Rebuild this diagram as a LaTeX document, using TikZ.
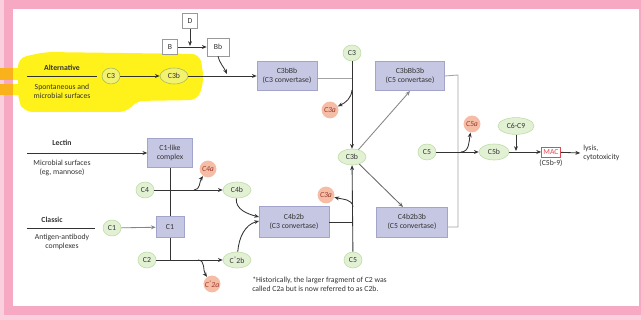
\documentclass[tikz,border=0pt]{standalone}
\usepackage{fontspec}
\setmainfont{Carlito}
\usetikzlibrary{arrows.meta, shapes.geometric}
\definecolor{Ink}{HTML}{333333}
\definecolor{Leaf}{HTML}{E2F1D4}
\definecolor{LeafLine}{HTML}{BCDCA4}
\definecolor{Salmon}{HTML}{F5BCA6}
\definecolor{Rust}{HTML}{9A3B2C}
\definecolor{Lilac}{HTML}{C6C7E3}
\definecolor{LilacLine}{HTML}{A3A4CB}
\definecolor{Frame}{HTML}{F7A9C3}
\definecolor{Marker}{HTML}{FFF21A}
\definecolor{MarkerOver}{HTML}{F9B21C}
\definecolor{MacRed}{HTML}{E24A5A}
\newcommand{\twostar}{\raisebox{0.9ex}{\fontsize{3.6}{4}\selectfont*}}

\begin{document}
\begin{tikzpicture}[x=0.025cm, y=-0.025cm,
    every node/.style={font=\fontsize{5.5}{6.4}\selectfont, text=Ink, inner sep=0pt, align=center},
    prot/.style={ellipse, draw=LeafLine, fill=Leaf, minimum width=0.45cm, minimum height=0.4cm},
    hl/.style={fill=Leaf!45!Marker, draw=LeafLine!60!olive},
    frag/.style={circle, fill=Salmon, text=Rust, minimum size=0.42cm, font=\fontsize{5.5}{6.4}\selectfont\itshape},
    cplx/.style={draw=LilacLine, fill=Lilac, minimum height=0.72cm},
    keybox/.style={draw=Ink!50, fill=white, minimum size=0.38cm},
    head/.style={font=\fontsize{5.5}{6.4}\selectfont\bfseries},
    arr/.style={Ink, line width=0.6pt, -{Stealth[length=3.4pt, width=2.8pt]}},
    ln/.style={Ink, line width=0.6pt},
    pale/.style={Ink!45, line width=0.6pt}]
  \useasboundingbox (0,0) rectangle (641,320);
  \fill[Frame] (0,0) rectangle (641,320);
  \fill[Frame!55] (0,0) rectangle (4,320);
  \fill[Frame!55] (0,315) rectangle (641,320);
  \fill[white] (13,9) rectangle (639,306);
  \fill[Marker, rounded corners=6] (18,58) -- (45,52) -- (200,54) -- (204,80) -- (198,100)
    -- (135,101) -- (128,112) -- (24,112) -- (18,100) -- cycle;
  \fill[Marker] (10,68) rectangle (20,80);
  \fill[Marker] (10,84) rectangle (20,95);
  \fill[MarkerOver] (0,68) rectangle (13,80);
  \fill[MarkerOver] (0,84) rectangle (13,95);

  \node[head] (alt) at (62,68) {Alternative};
  \draw[ln] (27,76) -- (97,76);
  \node (altsrc) at (62,91) {Spontaneous and\\microbial surfaces};
  \node[head] (lectin) at (62,143) {Lectin};
  \node (lecsrc) at (62,168) {Microbial surfaces\\(eg, mannose)};
  \node[head] (classic) at (52,220) {Classic};
  \draw[ln] (27,228) -- (95,228);
  \node (clasrc) at (62,242) {Antigen-antibody\\complexes};

  \node[prot, hl] (C3alt) at (111,76) {C3};
  \node[prot, hl, minimum width=0.7cm] (C3balt) at (174,76) {C3b};
  \node[keybox] (D) at (190,21) {D};
  \node[keybox] (B) at (170,47) {B};
  \node[keybox, minimum width=0.55cm, minimum height=0.45cm] (Bb) at (218,47) {Bb};
  \node[cplx, minimum width=1.5cm] (C3bBb) at (287,76) {C3bBb\\(C3 convertase)};
  \node[prot] (C3top) at (352,53) {C3};
  \node[frag] (C3a1) at (330,110) {C3a};
  \node[prot, minimum width=0.7cm] (C3b) at (352,157) {C3b};
  \node[cplx, minimum width=1.72cm] (C3bBb3b) at (410,76) {C3bBb3b\\(C5 convertase)};
  \node[frag] (C3a2) at (326,195) {C3a};
  \node[prot] (C5bot) at (353,260) {C5};
  \node[cplx, minimum width=1.75cm, minimum height=0.78cm] (C4b2b) at (294,222) {C4b2b\\(C3 convertase)};
  \node[cplx, minimum width=1.78cm, minimum height=0.75cm] (C4b2b3b) at (412,222) {C4b2b3b\\(C5 convertase)};
  \node[prot] (C5) at (427,152) {C5};
  \node[frag] (C5a) at (472,124) {C5a};
  \node[prot, minimum width=0.75cm] (C5b) at (494,152) {C5b};
  \node[prot, minimum width=0.9cm, minimum height=0.42cm] (C6) at (516,126) {C6-C9};
  \node[draw=MacRed, fill=white, text=MacRed, minimum width=0.48cm, minimum height=0.25cm] (MAC) at (551,152) {MAC};
  \node (mac9) at (551,163) {(C5b-9)};
  \node[anchor=west, align=left] (lysis) at (583,153) {lysis,\\cytotoxicity};

  \node[cplx, minimum width=1.12cm] (C1like) at (170,153) {C1-like\\complex};
  \node[prot] (C4) at (145,190) {C4};
  \node[frag] (C4a) at (208,169) {C4a};
  \node[prot, minimum width=0.7cm] (C4b) at (237,190) {C4b};
  \node[prot] (C1) at (112,228) {C1};
  \node[cplx, minimum width=0.7cm, minimum height=0.52cm] (C1box) at (170,227) {C1};
  \node[prot] (C2) at (147,260) {C2};
  \node[prot, minimum width=0.7cm] (C2b) at (237,260) {C\twostar2b};
  \node[frag] (C2a) at (212,284) {C\twostar2a};
  \node[anchor=north west, align=left] (note) at (252,277)
    {*Historically, the larger fragment of C2 was\\called C2a but is now referred to as C2b.};

  \coordinate (jD) at (190,46);
  \coordinate (jBb) at (227,74);
  \coordinate (jC3) at (352,78);
  \coordinate (s3a) at (352,90);
  \coordinate (t1) at (410,91);
  \coordinate (t2) at (403,207);
  \coordinate (s3a2) at (353,207);
  \coordinate (jC4) at (353,222);
  \coordinate (r1) at (458,75);
  \coordinate (r2) at (458,227);
  \coordinate (s5a) at (461,152);
  \coordinate (j6) at (516,151);
  \coordinate (lec) at (27,153);
  \coordinate (j2) at (170,260);
  \coordinate (s4a) at (194,190);
  \coordinate (s2a) at (198,260);
  \coordinate (m1) at (259,217);
  \coordinate (m2) at (259,221);

  \draw[arr] (B) -- (Bb);
  \draw[arr] (D) -- (jD);
  \draw[arr] (C3alt) -- (C3balt);
  \draw[arr] (C3balt) -- (C3bBb);
  \draw[arr] (Bb.south) to[out=-75, in=115] (jBb);
  \draw[pale] (C3bBb.east |- jC3) -- (jC3);
  \draw[arr] (C3top) -- (C3b);
  \draw[arr] (s3a) to[out=-95, in=25] (C3a1);
  \draw[arr, Ink!60] (C3b) -- (t1);
  \draw[arr, Ink!75] (C3b) -- (t2);
  \draw[arr] (C5bot) -- (C3b);
  \draw[arr] (s3a2) to[out=95, in=-15] (C3a2);
  \draw[ln] (C4b2b) -- (jC4);
  \draw[pale] (C3bBb3b.east) -- (r1) -- (r2) -- (C4b2b3b.east |- r2);
  \draw[arr] (C5) -- (C5b);
  \draw[arr] (s5a) to[out=0, in=-100] (C5a);
  \draw[arr] (C5b) -- (MAC);
  \draw[arr] (C6) -- (j6);
  \draw[arr] (MAC) -- ([xshift=-2pt]lysis.west);

  \draw[arr] (lec) -- (C1like);
  \draw[ln] (C1like) -- (C1box);
  \draw[ln] (C1box) -- (j2);
  \draw[arr] (C4) -- (C4b);
  \draw[arr] (s4a) to[out=0, in=-125] (C4a);
  \draw[arr, Ink!60] (C1) -- (C1box);
  \draw[arr] (C2) -- (C2b);
  \draw[arr] (s2a) to[out=0, in=125] (C2a);
  \draw[arr] (C4b) to[out=-95, in=165] (m1);
  \draw[arr] (C2b) to[out=85, in=-165] (m2);
\end{tikzpicture}
\end{document}
